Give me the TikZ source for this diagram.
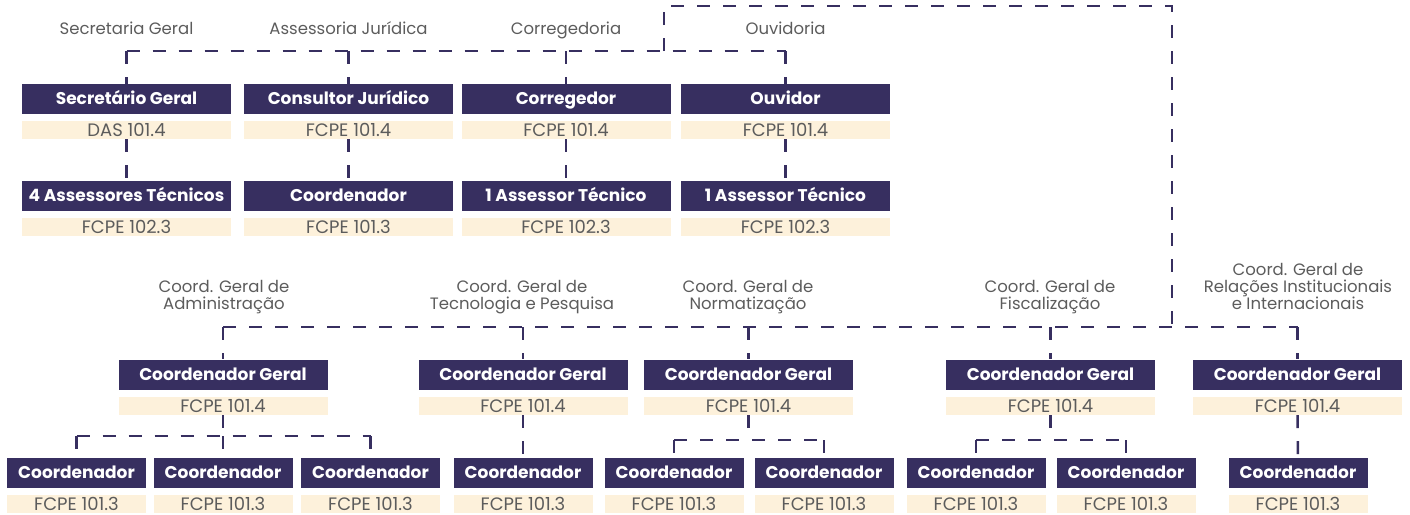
\documentclass[tikz,border=0pt]{standalone}
\usepackage{fontspec}
\setmainfont{Poppins}
\definecolor{boxc}{RGB}{55,47,96}
\definecolor{bandc}{RGB}{253,241,219}
\definecolor{txtc}{RGB}{92,92,92}
\begin{document}
\begin{tikzpicture}[x=1pt,y=-1pt,
  head/.style={rectangle,fill=boxc,text=white,inner sep=0pt,minimum height=30pt,
    font=\fontsize{17}{20}\selectfont\bfseries,text height=11.9pt,text depth=0pt},
  wide/.style={head,minimum width=209pt},
  narrow/.style={head,minimum width=139pt},
  band/.style={rectangle,fill=bandc,text=txtc,inner sep=0pt,minimum height=18pt,
    font=\fontsize{18}{20}\selectfont,text height=12.4pt,text depth=0pt},
  wband/.style={band,minimum width=209pt},
  nband/.style={band,minimum width=139pt},
  unit/.style={text=txtc,font=\fontsize{16.5}{17}\selectfont,align=center,inner sep=0pt,anchor=base},
  link/.style={draw=boxc,line width=2.5pt,dash pattern=on 13pt off 13pt}]
\useasboundingbox (0,0) rectangle (1410,514);

% ---------- upper block: advisory bodies ----------
\foreach \n/\x/\u/\a/\ba/\b/\bb in {
  sg/126.5/Secretaria Geral/Secretário Geral/DAS 101.4/4 Assessores Técnicos/FCPE 102.3,
  aj/348.5/Assessoria Jurídica/Consultor Jurídico/FCPE 101.4/Coordenador/FCPE 101.3,
  co/566/Corregedoria/Corregedor/FCPE 101.4/1 Assessor Técnico/FCPE 102.3,
  ou/785.5/Ouvidoria/Ouvidor/FCPE 101.4/1 Assessor Técnico/FCPE 102.3}{
  \node[unit] (\n-u) at (\x,34) {\u};
  \node[wide] (\n) at (\x,99) {\a};
  \node[wband] (\n-b) at (\x,130) {\ba};
  \node[wide] (\n-s) at (\x,196) {\b};
  \node[wband] (\n-sb) at (\x,227) {\bb};
}

% ---------- lower block: general coordinations ----------
\node[unit] (cga-u) at (224,309) {Coord. Geral de\\Administração};
\node[unit] (cgt-u) at (522,309) {Coord. Geral de\\Tecnologia e Pesquisa};
\node[unit] (cgn-u) at (748,309) {Coord. Geral de\\Normatização};
\node[unit] (cgf-u) at (1050,309) {Coord. Geral de\\Fiscalização};
\node[unit] (cgr-u) at (1298,309) {Coord. Geral de\\Relações Institucionais\\e Internacionais};

\foreach \n/\x in {cga/223,cgt/523,cgn/748.5,cgf/1050.5,cgr/1297.5}{
  \node[wide] (\n) at (\x,374.5) {Coordenador Geral};
  \node[wband] (\n-b) at (\x,406) {FCPE 101.4};
}

\foreach \n/\x in {a1/76.5,a2/223,a3/370.5,t1/523,n1/674,n2/824,f1/976,f2/1126,r1/1298}{
  \node[narrow] (\n) at (\x,472.5) {Coordenador};
  \node[nband] (\n-b) at (\x,504) {FCPE 101.3};
}

% ---------- junction points ----------
\coordinate (busA) at (0,51);
\coordinate (rise) at (664,51);
\coordinate (topL) at (664,6);
\coordinate (topR) at (1172,6);
\coordinate (busB) at (1172,327);
\coordinate (gA) at (0,436);
\coordinate (gN) at (0,440);

% ---------- connectors ----------
\draw[link] (sg.north |- busA) -- (ou.north |- busA);
\foreach \n in {sg,aj,co,ou}{
  \draw[link] (\n.north |- busA) -- (\n.north);
  \draw[link] (\n-b.south) -- (\n-s.north);
}
\draw[link] (rise) -- (topL) -- (topR) -- (busB);
\draw[link] (cga.north |- busB) -- (cgr.north |- busB);
\foreach \n in {cga,cgt,cgn,cgf,cgr}{
  \draw[link] (\n.north |- busB) -- (\n.north);
}

\draw[link] (cga-b.south) -- (cga-b.south |- gA);
\draw[link] (a1.north |- gA) -- (a3.north |- gA);
\foreach \n in {a1,a2,a3}{ \draw[link] (\n.north |- gA) -- (\n.north); }

\draw[link] (cgt-b.south) -- (t1.north);

\draw[link] (cgn-b.south) -- (cgn-b.south |- gN);
\draw[link] (n1.north |- gN) -- (n2.north |- gN);
\foreach \n in {n1,n2}{ \draw[link] (\n.north |- gN) -- (\n.north); }

\draw[link] (cgf-b.south) -- (cgf-b.south |- gN);
\draw[link] (f1.north |- gN) -- (f2.north |- gN);
\foreach \n in {f1,f2}{ \draw[link] (\n.north |- gN) -- (\n.north); }

\draw[link] (cgr-b.south) -- (r1.north);
\end{tikzpicture}
\end{document}
